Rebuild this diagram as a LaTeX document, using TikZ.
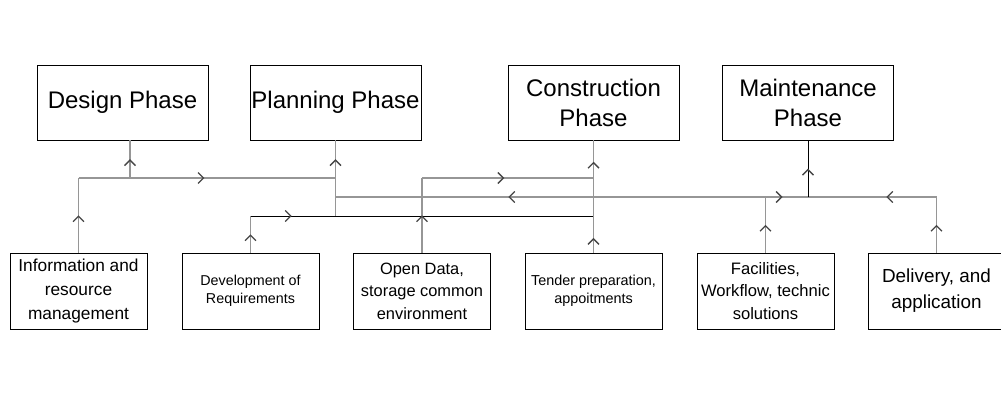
\documentclass[tikz,border=0pt]{standalone}
\usepackage{fontspec}
\setmainfont{Liberation Sans}
\usetikzlibrary{arrows.meta,decorations.markings}
\definecolor{linegray}{RGB}{150,150,150}
\definecolor{tipgray}{RGB}{70,70,70}

\begin{document}
\begin{tikzpicture}[x=1pt,y=-1pt,
    phase/.style={draw, line width=0.9pt, minimum width=171pt, minimum height=75pt, inner sep=0pt, align=center, font=\fontsize{24}{30}\selectfont},
    task/.style={draw, line width=0.9pt, minimum width=137pt, minimum height=76pt, inner sep=0pt, align=center},
    link/.style={line width=1.8pt, color=linegray},
    blink/.style={line width=1pt, color=black},
    marr/.style={postaction={decorate, decoration={markings, mark=at position #1 with {\arrow[tipgray]{Straight Barb[length=5.5pt,width=11pt,line width=1.3pt]}}}}},
    marr/.default=0.5]
    \def \ytop{102.5}
    \def \ybot{291}

    \useasboundingbox (0,0) rectangle (1001,418);

    % phases
    \node[phase] (design)   at (122.5,\ytop) {Design Phase};
    \node[phase] (planning) at (335.5,\ytop) {Planning Phase};
    \node[phase] (constr)   at (593.5,\ytop) {Construction\\Phase};
    \node[phase] (maint)    at (808,\ytop)   {Maintenance\\Phase};

    % activities
    \node[task, font=\fontsize{17.3}{24}\selectfont]   (info)   at (78.5,\ybot)  {Information and\\resource\\management};
    \node[task, font=\fontsize{14.3}{18}\selectfont]   (dev)    at (250.5,\ybot) {Development of\\Requirements};
    \node[task, font=\fontsize{16.4}{22.5}\selectfont] (open)   at (422,\ybot)   {Open Data,\\storage common\\environment};
    \node[task, font=\fontsize{14.4}{18}\selectfont]   (tender) at (593.5,\ybot) {Tender preparation,\\appoitments};
    \node[task, font=\fontsize{16.6}{22.5}\selectfont] (fac)    at (765.5,\ybot) {Facilities,\\Workflow, technic\\solutions};
    \node[task, font=\fontsize{18.9}{26}\selectfont]   (deliv)  at (936.5,\ybot) {Delivery, and\\application};

    % junctions
    \coordinate (iA) at (info.north |- 0,178);
    \coordinate (dA) at (130,178);
    \coordinate (pA) at (planning.south |- 0,178);
    \coordinate (pB) at (planning.south |- 0,197);
    \coordinate (pC) at (planning.south |- 0,216);
    \coordinate (rA) at (dev.north |- 0,216);
    \coordinate (oA) at (open.north |- 0,178);
    \coordinate (cA) at (tender.north |- 0,178);
    \coordinate (cB) at (tender.north |- 0,197);
    \coordinate (cC) at (tender.north |- 0,216);
    \coordinate (fA) at (fac.north |- 0,197);
    \coordinate (mA) at (maint.south |- 0,197);
    \coordinate (vA) at (deliv.north |- 0,197);

    \begin{scope}
     \draw[link, marr] (info.north) -- (iA);
     \draw[link, marr=0.49] (iA) -- (pA);
     \draw[link, marr] (dA) -- (design.south -| dA);
     \draw[link, marr] (pA) -- (planning.south);
     \draw[link] (pC) -- (pA);
     \draw[link, marr] (dev.north) -- (rA);
     \draw[blink, marr=0.12] (rA) -- (cC);
     \draw[link, marr] (open.north) -- (oA);
     \draw[link, marr=0.48] (oA) -- (cA);
     \draw[link, marr=0.13, marr=0.81] (tender.north) -- (constr.south);
     \draw[link, marr=0.33] (cB) -- (pB);
     \draw[link] (cB) -- (fA);
     \draw[link, marr=0.4] (fA) -- (mA);
     \draw[link, marr=0.39] (vA) -- (mA);
     \draw[blink, marr] (mA) -- (maint.south);
     \draw[link, marr] (fac.north) -- (fA);
     \draw[link, marr] (deliv.north) -- (vA);
    \end{scope}
\end{tikzpicture}
\end{document}
